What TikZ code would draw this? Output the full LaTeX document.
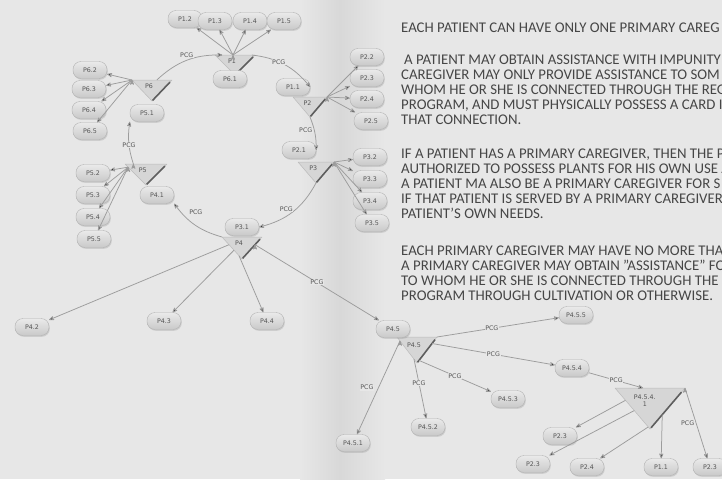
\documentclass[tikz,border=0pt]{standalone}
\usepackage{fontspec}
\setmainfont{Carlito}
\newfontfamily\nodefont{DejaVu Sans}
\usetikzlibrary{arrows,calc,shadows}

\definecolor{paper}{HTML}{E7E7E7}
\definecolor{fold}{HTML}{D8D8D8}
\definecolor{pilltop}{HTML}{EAEAEA}
\definecolor{pillbot}{HTML}{C9C9C9}
\definecolor{pilledge}{HTML}{B2B2B2}
\definecolor{trifill}{HTML}{D6D6D6}
\definecolor{triedge}{HTML}{BBBBBB}
\definecolor{trishade}{HTML}{5E5E5E}
\definecolor{linegray}{HTML}{9C9C9C}
\definecolor{inkgray}{HTML}{555555}
\definecolor{notegray}{HTML}{464646}

% caregiver triangle: name, top x, top y, half width, height, text
\newcommand{\cgtri}[6]{%
  \coordinate (#1l) at (#2-#4,#3);
  \coordinate (#1r) at (#2+#4,#3);
  \coordinate (#1a) at (#2,#3+#5);
  \filldraw[tri] (#1l) -- (#1r) -- (#1a) -- cycle;
  \draw[tri shade] ($(#1r)!.1!(#1a)$) -- ($(#1r)!.97!(#1a)$);
  \node[tri label] (#1) at (#2-#4*.15,#3+#5*.3) {#6};
}

\begin{document}
\begin{tikzpicture}[x=1pt,y=-1pt,
    pill/.style={rectangle,rounded corners=8pt,draw=pilledge,line width=.4pt,
      top color=pilltop,bottom color=pillbot,minimum width=34pt,minimum height=17pt,
      inner sep=1pt,text=inkgray,font=\nodefont\fontsize{6.3}{7}\selectfont,
      drop shadow={opacity=.25,shadow xshift=.8pt,shadow yshift=-1.3pt}},
    tri/.style={fill=trifill,draw=triedge,line width=.5pt,line join=round},
    tri shade/.style={draw=trishade,line width=1.6pt},
    tri label/.style={text=inkgray,inner sep=0pt,align=center,
      font=\nodefont\fontsize{6.3}{7}\selectfont},
    link/.style={->,>=stealth',draw=linegray,line width=.75pt},
    lbl/.style={fill=paper,inner sep=.6pt,text=inkgray,
      font=\nodefont\fontsize{6.3}{7}\selectfont},
    note/.style={anchor=west,align=left,inner sep=0pt,text=notegray,
      font=\fontsize{14.8}{15}\selectfont}]

  \useasboundingbox (0,0) rectangle (722,479);
  \clip (0,0) rectangle (722,479);
  \fill[paper] (0,0) rectangle (722,479);
  \shade[left color=paper,right color=fold] (300,0) rectangle (340,479);
  \shade[left color=fold,right color=paper] (340,0) rectangle (385,479);

  % the rules on the page
  \node[note] (rule1) at (401,28) {EACH PATIENT CAN HAVE ONLY ONE PRIMARY CAREG};
  \node[note] (rule2) at (401,90) {\hspace*{3pt}A PATIENT MAY OBTAIN ASSISTANCE WITH IMPUNITY\\
    CAREGIVER MAY ONLY PROVIDE ASSISTANCE TO SOM\\
    WHOM HE OR SHE IS CONNECTED THROUGH THE REG\\
    PROGRAM, AND MUST PHYSICALLY POSSESS A CARD I\\
    THAT CONNECTION.};
  \node[note] (rule3) at (401,184) {IF A PATIENT HAS A PRIMARY CAREGIVER, THEN THE P\\
    AUTHORIZED TO POSSESS PLANTS FOR HIS OWN USE A\\
    A PATIENT MA ALSO BE A PRIMARY CAREGIVER FOR S\\
    IF THAT PATIENT IS SERVED BY A PRIMARY CAREGIVER\\
    PATIENT'S OWN NEEDS.};
  \node[note] (rule4) at (401,273) {EACH PRIMARY CAREGIVER MAY HAVE NO MORE THA\\
    A PRIMARY CAREGIVER MAY OBTAIN "ASSISTANCE" FO\\
    TO WHOM HE OR SHE IS CONNECTED THROUGH THE\\
    PROGRAM THROUGH CULTIVATION OR OTHERWISE.};

  % caregivers
  \cgtri{t1}{235}{55}{20}{20}{P1}
  \cgtri{t6}{152}{80}{20}{21}{P6}
  \cgtri{t2}{310}{97}{17}{20}{P2}
  \cgtri{t3}{316}{162}{18}{21}{P3}
  \cgtri{t4}{242}{237}{20}{22}{P4}
  \cgtri{t5}{146}{164}{21}{21}{P5}
  \cgtri{t45}{417}{337}{20}{26}{P4.5}
  \cgtri{t4541}{650}{388}{35}{41}{P4.5.4.\\1}

  % patients
  \node[pill] (p12) at (185,19) {P1.2};
  \node[pill] (p13) at (215,21) {P1.3};
  \node[pill] (p14) at (250,21) {P1.4};
  \node[pill] (p15) at (284,21) {P1.5};
  \node[pill] (p61) at (230,79) {P6.1};
  \node[pill] (p62) at (90,70) {P6.2};
  \node[pill] (p63) at (89,89) {P6.3};
  \node[pill] (p64) at (89,110) {P6.4};
  \node[pill] (p65) at (90,131) {P6.5};
  \node[pill] (p51) at (147,113) {P5.1};
  \node[pill] (p11) at (293,87) {P1.1};
  \node[pill] (p22) at (367,57) {P2.2};
  \node[pill] (p23) at (367,78) {P2.3};
  \node[pill] (p24) at (367,99) {P2.4};
  \node[pill] (p25) at (371,121) {P2.5};
  \node[pill] (p21) at (299,150) {P2.1};
  \node[pill] (p32) at (370,157) {P3.2};
  \node[pill] (p33) at (370,179) {P3.3};
  \node[pill] (p34) at (370,201) {P3.4};
  \node[pill] (p35) at (372,223) {P3.5};
  \node[pill] (p31) at (242,227) {P3.1};
  \node[pill] (p41) at (157,195) {P4.1};
  \node[pill] (p52) at (93,173) {P5.2};
  \node[pill] (p53) at (93,195) {P5.3};
  \node[pill] (p54) at (93,217) {P5.4};
  \node[pill] (p55) at (94,239) {P5.5};
  \node[pill] (p42) at (32,327) {P4.2};
  \node[pill] (p43) at (164,321) {P4.3};
  \node[pill] (p44) at (267,321) {P4.4};
  \node[pill] (p45) at (393,329) {P4.5};
  \node[pill] (p455) at (576,315) {P4.5.5};
  \node[pill] (p454) at (572,368) {P4.5.4};
  \node[pill] (p453) at (508,399) {P4.5.3};
  \node[pill] (p452) at (428,427) {P4.5.2};
  \node[pill] (p451) at (353,443) {P4.5.1};
  \node[pill] (q23a) at (560,436) {P2.3};
  \node[pill] (q23b) at (533,464) {P2.3};
  \node[pill] (q24) at (587,467) {P2.4};
  \node[pill] (q11) at (661,467) {P1.1};
  \node[pill] (q23c) at (710,467) {P2.3};

  % caregiver ring
  \path[link]
    ($(t6l)!.62!(t6r)$) edge[bend left=22] node[lbl,pos=.5,yshift=5pt] {PCG} ($(t1l)!.18!(t1r)$)
    ($(t1l)!.92!(t1r)$) edge[bend left=22] node[lbl,pos=.4] {PCG} (p11.east)
    (t2a) edge[bend left=11] node[lbl,pos=.4,left=1pt] {PCG} (p21.east)
    (t3a) edge[bend left=24] node[lbl,pos=.5,above left=-1pt] {PCG} (p31.east)
    (t4l) edge[bend left=19] node[lbl,pos=.7,above right=2pt] {PCG} (p41.south east)
    ($(t5l)!.2!(t5r)$) edge[bend left=13] node[lbl,pos=.45] {PCG} (p51.south west);

  % patients of each caregiver
  \path[link] ($(t1l)!.45!(t1r)$) edge (p12) edge (p13) edge (p14) edge (p15);
  \path[link] (t6l) edge (p62) edge (p63) edge (p64) edge (p65);
  \path[link] ($(t5l)!.15!(t5a)$) edge (p52) edge (p53) edge (p54) edge (p55);
  \path[link] (t2r) edge (p22) edge (p23) edge (p24) edge (p25);
  \path[link] (t3r) edge (p32) edge (p33) edge (p34) edge (p35);
  \path[link]
    ($(t4l)!.35!(t4a)$) edge (p42)
    ($(t4l)!.6!(t4a)$) edge (p43)
    ($(t4l)!.85!(t4a)$) edge (p44)
    ($(t4r)!.35!(t4a)$) edge node[lbl,pos=.5] {PCG} (p45);
  \path[link]
    (t45r) edge node[lbl,pos=.45] {PCG} (p455)
    ($(t45r)!.25!(t45a)$) edge node[lbl,pos=.5] {PCG} (p454)
    ($(t45r)!.9!(t45a)$) edge node[lbl,pos=.5] {PCG} (p453)
    ($(t45l)!.85!(t45a)$) edge node[lbl,pos=.4] {PCG} (p452)
    ($(t45l)!.15!(t45a)$) edge node[lbl,pos=.5,left=4pt] {PCG} (p451)
    (p454) edge node[lbl,pos=.5] {PCG} ($(t4541l)!.4!(t4541r)$);
  \path[link]
    ($(t4541l)!.3!(t4541a)$) edge (q23a)
    ($(t4541l)!.55!(t4541a)$) edge (q23b)
    ($(t4541l)!.95!(t4541a)$) edge (q24)
    ($(t4541r)!.65!(t4541a)$) edge (q11)
    (t4541r) edge node[lbl,pos=.5,left=1pt] {PCG} (q23c);
\end{tikzpicture}
\end{document}
